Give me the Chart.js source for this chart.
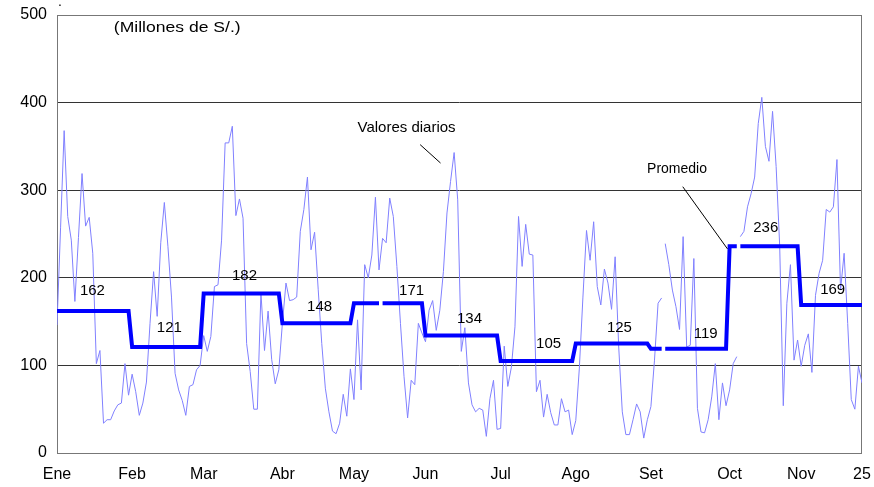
<!DOCTYPE html>
<html>
<head>
<meta charset="utf-8">
<script src="https://cdn.jsdelivr.net/npm/chart.js@4.4.1/dist/chart.umd.min.js"></script>
<style>
  html, body { margin: 0; padding: 0; background: #fff; }
  #wrap { width: 874px; height: 487px; }
</style>
</head>
<body>
<div id="wrap"><canvas id="chart" width="874" height="487"></canvas></div>
<script>
// daily values, one per business day (Millones de S/.)
const dailyValues = [
  146, 257, 368, 270, 243, 173, 246, 319, 259, 269, 228, 102, 117, 34, 38, 38, 48, 55, 57, 102, 66,
  90, 70, 43, 57, 81, 148, 207, 156, 240, 286, 236, 178, 91, 72, 60, 43, 76, 78, 95, 100,
  134, 116, 133, 190, 192, 243, 354, 354, 373, 271, 290, 268, 125, 93, 50, 50, 183, 117, 162, 107, 79, 95,
  148, 194, 174, 175, 178, 253, 278, 315, 232, 252, 187, 125, 74, 47, 25, 22, 34, 67, 42, 96,
  61, 152, 72, 215, 200, 226, 292, 209, 245, 240, 291, 270, 213, 148, 87, 40, 83, 78, 148, 137,
  127, 163, 174, 140, 163, 207, 274, 310, 343, 289, 116, 143, 80, 55, 47, 51, 49, 19, 62, 83, 27,
  28, 122, 76, 98, 144, 270, 213, 261, 227, 226, 70, 83, 41, 67, 46, 32, 32, 62, 47, 49, 21,
  37, 97, 178, 254, 220, 264, 190, 169, 210, 194, 164, 224, 121, 47, 21, 21, 38, 56, 47, 17, 38,
  53, 106, 171, 177, 239, 215, 186, 167, 141, 247, 121, 123, 222, 51, 24, 23, 38, 64, 102, 38, 80, 54,
  72, 102, 110, 247, 253, 281, 296, 315, 376, 406, 350, 333, 390, 327, 236, 54, 171, 215, 106, 129,
  99, 123, 136, 92, 180, 205, 220, 278, 275, 281, 335, 186, 228, 148, 61, 50, 99, 80
];

const monthNames = ["Ene", "Feb", "Mar", "Abr", "May", "Jun", "Jul", "Ago", "Set", "Oct", "Nov", "25"];
const monthStart = [0, 21, 41, 63, 83, 103, 124, 145, 166, 188, 208, 225];
const monthAverage = [162, 121, 182, 148, 171, 134, 105, 125, 119, 236, 169];

// segments that are not drawn (missing days)
const dailyBreaks = [169, 190];
const averageBreaks = [90, 169, 190];

// where the average labels sit (day index, value)
const averageLabelAt = [
  [9.9, 185], [31.4, 143], [52.4, 202], [73.4, 167], [99.1, 185], [115.3, 153],
  [137.4, 125], [157.2, 143], [181.3, 136], [198.1, 257], [216.8, 186]
];

const FONT = "'Liberation Sans', Arial, sans-serif";

function monthOf(i) {
  let m = 0;
  for (let k = 0; k < monthAverage.length; k++) {
    if (i >= monthStart[k]) m = k;
  }
  return m;
}

const dailyPoints = dailyValues.map((v, i) => ({ x: i, y: v }));
const averagePoints = dailyValues.map((v, i) => ({ x: i, y: monthAverage[monthOf(i)] }));

// text drawn slightly wider than normal, like the original
function wideText(ctx, text, px, py, sx) {
  ctx.save();
  ctx.translate(px, py);
  ctx.scale(sx, 1);
  ctx.fillText(text, 0, 0);
  ctx.restore();
}

const notesPlugin = {
  id: "notes",
  beforeDatasetsDraw(chart) {
    const { ctx, chartArea: a } = chart;
    ctx.save();
    ctx.strokeStyle = "#777";
    ctx.lineWidth = 1;
    ctx.strokeRect(a.left + 0.5, a.top + 0.5, a.right - a.left - 1, a.bottom - a.top);
    ctx.restore();
  },
  afterDatasetsDraw(chart) {
    const { ctx, scales: { x, y } } = chart;
    ctx.save();
    ctx.fillStyle = "#000";
    ctx.textAlign = "center";
    ctx.textBaseline = "middle";
    ctx.font = "15px " + FONT;
    averageLabelAt.forEach((p, k) => {
      ctx.fillText(String(monthAverage[k]), x.getPixelForValue(p[0]), y.getPixelForValue(p[1]));
    });
    wideText(ctx, "(Millones de S/.)", x.getPixelForValue(33.6), y.getPixelForValue(485), 1.17);
    ctx.fillText("Valores diarios", x.getPixelForValue(97.7), y.getPixelForValue(371));
    ctx.font = "14px " + FONT;
    ctx.fillText("Promedio", x.getPixelForValue(173.3), y.getPixelForValue(324));
    ctx.fillText(".", x.getPixelForValue(0.8), 2);

    ctx.strokeStyle = "#000";
    ctx.lineWidth = 1;
    ctx.beginPath();
    ctx.moveTo(x.getPixelForValue(101.5), y.getPixelForValue(352));
    ctx.lineTo(x.getPixelForValue(107.2), y.getPixelForValue(331));
    ctx.moveTo(x.getPixelForValue(174.9), y.getPixelForValue(304));
    ctx.lineTo(x.getPixelForValue(187.4), y.getPixelForValue(233));
    ctx.stroke();
    ctx.restore();
  }
};

new Chart(document.getElementById("chart"), {
  type: "line",
  data: {
    datasets: [
      {
        label: "Valores diarios",
        data: dailyPoints,
        borderColor: "#8080ff",
        borderWidth: 1,
        pointRadius: 0,
        tension: 0,
        order: 2,
        segment: {
          borderColor: c => dailyBreaks.includes(c.p0DataIndex) ? "rgba(0,0,0,0)" : "#8080ff"
        }
      },
      {
        label: "Promedio",
        data: averagePoints,
        borderColor: "#0000ff",
        borderWidth: 4,
        pointRadius: 0,
        tension: 0,
        order: 1,
        segment: {
          borderColor: c => averageBreaks.includes(c.p0DataIndex) ? "rgba(0,0,0,0)" : "#0000ff"
        }
      }
    ]
  },
  options: {
    responsive: false,
    animation: false,
    layout: { padding: { top: 15, right: 12, left: 0, bottom: 0 } },
    plugins: {
      legend: { display: false },
      tooltip: { enabled: false }
    },
    scales: {
      x: {
        type: "linear",
        min: 0,
        max: monthStart[monthStart.length - 1],
        grid: { display: false, drawTicks: false },
        border: { display: false },
        afterBuildTicks: axis => {
          axis.ticks = monthStart.map(v => ({ value: v }));
        },
        afterFit: s => {
          s.height = 34;
          s.paddingLeft = 0;
          s.paddingRight = 0;
        },
        ticks: {
          autoSkip: false,
          maxRotation: 0,
          padding: 12,
          color: "#000",
          font: { family: FONT, size: 16 },
          callback: v => monthNames[monthStart.indexOf(v)]
        }
      },
      y: {
        min: 0,
        max: 500,
        grid: {
          drawTicks: false,
          tickLength: 0,
          color: c => (c.tick.value === 0 || c.tick.value === 500) ? "rgba(0,0,0,0)" : "#333",
          lineWidth: 1
        },
        border: { display: false },
        afterFit: s => {
          s.width = 57;
          s.paddingTop = 0;
          s.paddingBottom = 0;
        },
        ticks: {
          stepSize: 100,
          padding: 10,
          color: "#000",
          font: { family: FONT, size: 16 }
        }
      }
    }
  },
  plugins: [notesPlugin]
});
</script>
</body>
</html>
